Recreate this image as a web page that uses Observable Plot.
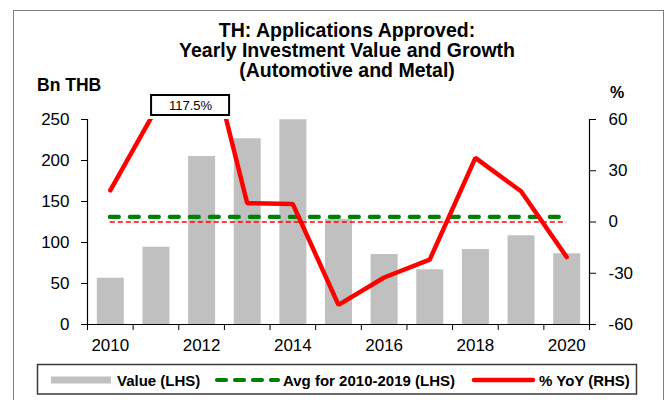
<!DOCTYPE html>
<html><head><meta charset="utf-8">
<script src="https://cdn.jsdelivr.net/npm/d3@7"></script>
<script src="https://cdn.jsdelivr.net/npm/@observablehq/plot@0.6"></script>
<style>
html,body{margin:0;padding:0;background:#fff;}
</style></head><body><div id="chart"></div>
<script>
// ---- data ----
const years = [2010, 2011, 2012, 2013, 2014, 2015, 2016, 2017, 2018, 2019, 2020];
const values = [56.5, 94.3, 205, 226.5, 249.6, 128, 85.4, 66.7, 91.5, 108.2, 86.2];   // Bn THB (LHS)
const yoy = [18.5, 66, 117.5, 11, 10.5, -48.5, -32.5, -22, 37.5, 18, -20.5];         // % YoY (RHS)
const leftTicks = [0, 50, 100, 150, 200, 250];
const rightTicks = [-60, -30, 0, 30, 60];
const yearLabels = [2010, 2012, 2014, 2016, 2018, 2020];
const avgRange = [2010, 2019];
const titleLines = ["TH: Applications Approved:", "Yearly Investment Value and Growth", "(Automotive and Metal)"];
const legendLabels = ["Value (LHS)", "Avg for 2010-2019 (LHS)", "% YoY (RHS)"];

// ---- helpers ----
const leftDomain = [0, 250], rightDomain = [-60, 60];
const toLeft = p => (p - rightDomain[0]) / (rightDomain[1] - rightDomain[0]) * leftDomain[1];
const fromLeft = v => String(Math.round(v / leftDomain[1] * (rightDomain[1] - rightDomain[0]) + rightDomain[0]));

const data = years.map((year, i) => ({year, value: values[i], yoy: yoy[i], yoyL: toLeft(yoy[i])}));
const avg = d3.mean(data.filter(d => d.year >= avgRange[0] && d.year <= avgRange[1]), d => d.value);
const boundaries = d3.range(years[0] - 0.5, years[years.length - 1] + 1, 1);
const peak = data.find(d => d.yoy === d3.max(yoy));
const FONT = "'Liberation Sans', Arial, Helvetica, sans-serif";

const svg = Plot.plot({
  width: 667, height: 400,
  marginLeft: 87, marginRight: 78, marginTop: 119, marginBottom: 76,
  style: {fontFamily: FONT, fontSize: "17px", color: "#000", background: "#fff", overflow: "visible"},
  x: {type: "linear", domain: [years[0] - 0.5, years[years.length - 1] + 0.5]},
  y: {domain: leftDomain},
  marks: [
    Plot.ruleX(data, {x: "year", y1: 0, y2: "value", stroke: "#c0c0c0", strokeWidth: 27}),
    Plot.ruleY([avg], {x1: years[0], x2: years[years.length - 1], stroke: "#008000", strokeWidth: 4.2, strokeDasharray: "9,11", strokeLinecap: "round"}),
    Plot.ruleY([toLeft(0)], {x1: years[0], x2: years[years.length - 1], stroke: "#ff0000", strokeWidth: 1.6, strokeDasharray: "5,3"}),
    Plot.line(data, {x: "year", y: "yoyL", stroke: "#ff0000", strokeWidth: 4.5, clip: true, strokeLinejoin: "miter"}),
    Plot.ruleX([years[0] - 0.5, years[years.length - 1] + 0.5], {y1: leftDomain[0], y2: leftDomain[1], stroke: "#000", strokeWidth: 1.2}),
    Plot.ruleY([0], {stroke: "#000", strokeWidth: 1.2}),
    Plot.axisY({anchor: "left", ticks: leftTicks, tickSize: 6, tickPadding: 12, label: null, fontSize: 17}),
    Plot.axisY({anchor: "right", ticks: rightTicks.map(toLeft), tickFormat: fromLeft, tickSize: 6, tickPadding: 13, label: null, fontSize: 17}),
    Plot.axisX({ticks: boundaries, tickSize: 6, tickFormat: () => "", label: null}),
    Plot.axisX({ticks: yearLabels, tickSize: 0, tickPadding: 14.5, tickFormat: d => String(d), label: null, fontSize: 17}),
    Plot.text([peak], {x: "year", text: d => d.yoy.toFixed(1) + "%", frameAnchor: "top", lineAnchor: "middle", dx: -11, dy: -14, fontSize: 13, fill: "#000"})
  ]
});

document.getElementById("chart").appendChild(svg);
const s = d3.select(svg);

// annotation box behind the peak label
const xPeak = svg.scale("x").apply(peak.year) - 11;
const textGroup = svg.querySelector('g[aria-label="text"]');
const box = document.createElementNS("http://www.w3.org/2000/svg", "rect");
svg.insertBefore(box, textGroup);
d3.select(box).attr("x", xPeak - 39).attr("y", 95).attr("width", 78).attr("height", 20)
  .attr("fill", "#fff").attr("stroke", "#000").attr("stroke-width", 2);

// outer border
s.append("rect").attr("x", 13.5).attr("y", 10.5).attr("width", 650).attr("height", 400)
  .attr("fill", "none").attr("stroke", "#7f7f7f").attr("stroke-width", 1);

// title
const tg = s.append("g").attr("font-family", FONT).attr("font-weight", "bold").attr("font-size", 19.5).attr("text-anchor", "middle");
titleLines.forEach((t, i) => tg.append("text").attr("x", 347).attr("y", 37 + i * 20).text(t));

// axis unit labels
s.append("text").attr("x", 37).attr("y", 91).attr("text-anchor", "start").attr("font-family", FONT).attr("font-weight", "bold").attr("font-size", 17.5).text("Bn THB");
s.append("text").attr("x", 610).attr("y", 98).attr("text-anchor", "start").attr("font-family", FONT).attr("font-weight", "bold").attr("font-size", 16).text("%");

// legend
const lg = s.append("g").attr("font-family", FONT).attr("font-weight", "bold").attr("font-size", 15).attr("text-anchor", "start");
lg.append("rect").attr("x", 37.5).attr("y", 364.5).attr("width", 599).attr("height", 29.5)
  .attr("fill", "#fff").attr("stroke", "#3a3a3a").attr("stroke-width", 1.5);
const ly = 380;
lg.append("line").attr("x1", 51).attr("x2", 111).attr("y1", ly).attr("y2", ly).attr("stroke", "#c0c0c0").attr("stroke-width", 7);
lg.append("text").attr("x", 117).attr("y", ly + 5.5).text(legendLabels[0]);
lg.append("line").attr("x1", 217).attr("x2", 278).attr("y1", ly).attr("y2", ly).attr("stroke", "#008000").attr("stroke-width", 4.2)
  .attr("stroke-dasharray", "9,9").attr("stroke-linecap", "round");
lg.append("text").attr("x", 283).attr("y", ly + 5.5).text(legendLabels[1]);
lg.append("line").attr("x1", 474).attr("x2", 533).attr("y1", ly).attr("y2", ly).attr("stroke", "#ff0000").attr("stroke-width", 4.5).attr("stroke-linecap", "round");
lg.append("text").attr("x", 539).attr("y", ly + 5.5).text(legendLabels[2]);
</script>
</body></html>
